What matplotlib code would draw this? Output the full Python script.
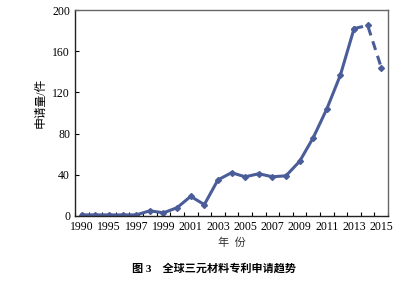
import matplotlib
matplotlib.use('Agg')
import matplotlib.pyplot as plt

plt.rcParams['font.family'] = ['Liberation Serif', 'Noto Sans CJK SC']

# data
years = ['1990', '1994', '1995', '1996', '1997', '1998', '1999', '2000', '2001', '2002', '2003',
         '2004', '2005', '2006', '2007', '2008', '2009', '2010', '2011', '2012', '2013', '2014', '2015']
counts = [1, 1, 1, 1, 1, 5, 3, 8, 19, 11, 35, 42, 38, 41, 38, 39, 53, 76, 104, 137, 182, 185, 144]
tick_labels = ['1990', '1995', '1997', '1999', '2001', '2003', '2005', '2007', '2009', '2011', '2013', '2015']
yticks = [0, 40, 80, 120, 160, 200]

col = '#4a5d99'
x = list(range(len(years)))
n_solid = 21  # solid up to 2013, dashed after

fig = plt.figure(figsize=(4.12, 2.86), dpi=100)
ax = fig.add_axes([0.182, 0.245, 0.76, 0.72])
ax.plot(x[:n_solid], counts[:n_solid], color=col, lw=2.2, marker='D', ms=3)
ax.plot(x[n_solid - 1:], counts[n_solid - 1:], color=col, lw=2.2, ls=(0, (3, 2)), marker='D', ms=3)

ax.set_xlim(-0.5, len(years) - 0.5)
ax.set_ylim(0, 200)
ax.set_yticks(yticks)
ax.set_xticks([i - 0.5 for i in range(len(years) + 1)], minor=False)
ax.set_xticklabels([])
ax.set_xticks(list(range(0, len(years), 2)), minor=True)
ax.set_xticklabels(tick_labels, minor=True)
ax.tick_params(axis='x', which='major', direction='in', length=3, width=0.8)
ax.tick_params(axis='x', which='minor', length=0, labelsize=8.5, pad=4)
ax.tick_params(axis='y', direction='in', length=3, width=0.8, labelsize=8.5)
for s in ['left', 'bottom']:
    ax.spines[s].set_linewidth(1.0)
    ax.spines[s].set_color('#222222')
for s in ['top', 'right']:
    ax.spines[s].set_linewidth(1.0)
    ax.spines[s].set_color('#666666')

ax.set_ylabel('申请量/件', fontsize=8.5)
ax.yaxis.set_label_coords(-0.09, 0.55)
ax.set_xlabel('年  份', fontsize=8, labelpad=3, color='#333333')

fig.text(0.52, 0.062, '图 3    全球三元材料专利申请趋势', ha='center', va='center',
         fontsize=8, fontweight='bold')

plt.savefig('out.png', dpi=100)
